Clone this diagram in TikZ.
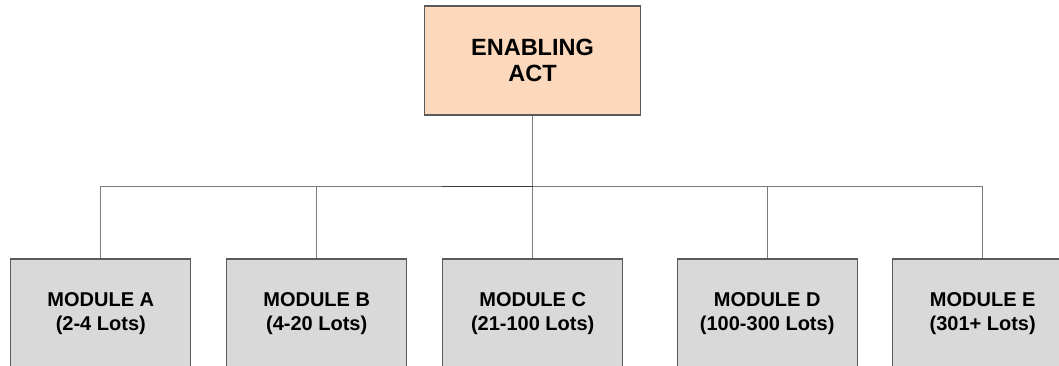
\documentclass[tikz,border=0pt]{standalone}
\usepackage{fontspec}
\setmainfont{Liberation Sans}
\usetikzlibrary{backgrounds}
\definecolor{peach}{HTML}{FCD9BC}
\definecolor{boxgray}{HTML}{D9D9D9}
\definecolor{edgegray}{HTML}{5A5A5A}
\definecolor{linegray}{HTML}{7A7A7A}
\definecolor{linedark}{HTML}{3A3A3A}
\tikzset{
  x=1pt, y=1pt,
  rootbox/.style={draw=edgegray, line width=1.3pt, fill=peach, minimum width=216pt,
    minimum height=109pt, inner sep=0pt, align=center,
    font=\fontsize{23.5}{26.7}\selectfont\bfseries},
  modbox/.style={draw=edgegray, line width=1.3pt, fill=boxgray, minimum width=180pt,
    minimum height=109pt, inner sep=0pt, align=center,
    font=\fontsize{20}{24.3}\selectfont\bfseries},
  link/.style={draw=linegray, line width=1.2pt},
  linkdark/.style={draw=linedark, line width=1.2pt}
}
\begin{document}
\begin{tikzpicture}
\useasboundingbox (0,0) rectangle (1059,365);
\clip (0,0) rectangle (1059,365);
\coordinate (bus) at (533,178.3);
\node[rootbox] (root) at (532.5,304.5) {ENABLING\\ACT};
\node[modbox] (A) at (100.8,51.5) {MODULE A\\(2-4 Lots)};
\node[modbox] (B) at (316.7,51.5) {MODULE B\\(4-20 Lots)};
\node[modbox] (C) at (532.7,51.5) {MODULE C\\(21-100 Lots)};
\node[modbox] (D) at (767.2,51.5) {MODULE D\\(100-300 Lots)};
\node[modbox] (E) at (982.7,51.5) {MODULE E\\(301+ Lots)};
% elbow connectors from the act down to each module, behind the boxes
\begin{scope}[on background layer]
\foreach \m in {A,B,C,D,E}
  \draw[link] (root.south) -- (root.south |- bus) -| (\m.north);
\draw[linkdark] (C.north west |- bus) -- (root.south |- bus);
\end{scope}
\end{tikzpicture}
\end{document}
